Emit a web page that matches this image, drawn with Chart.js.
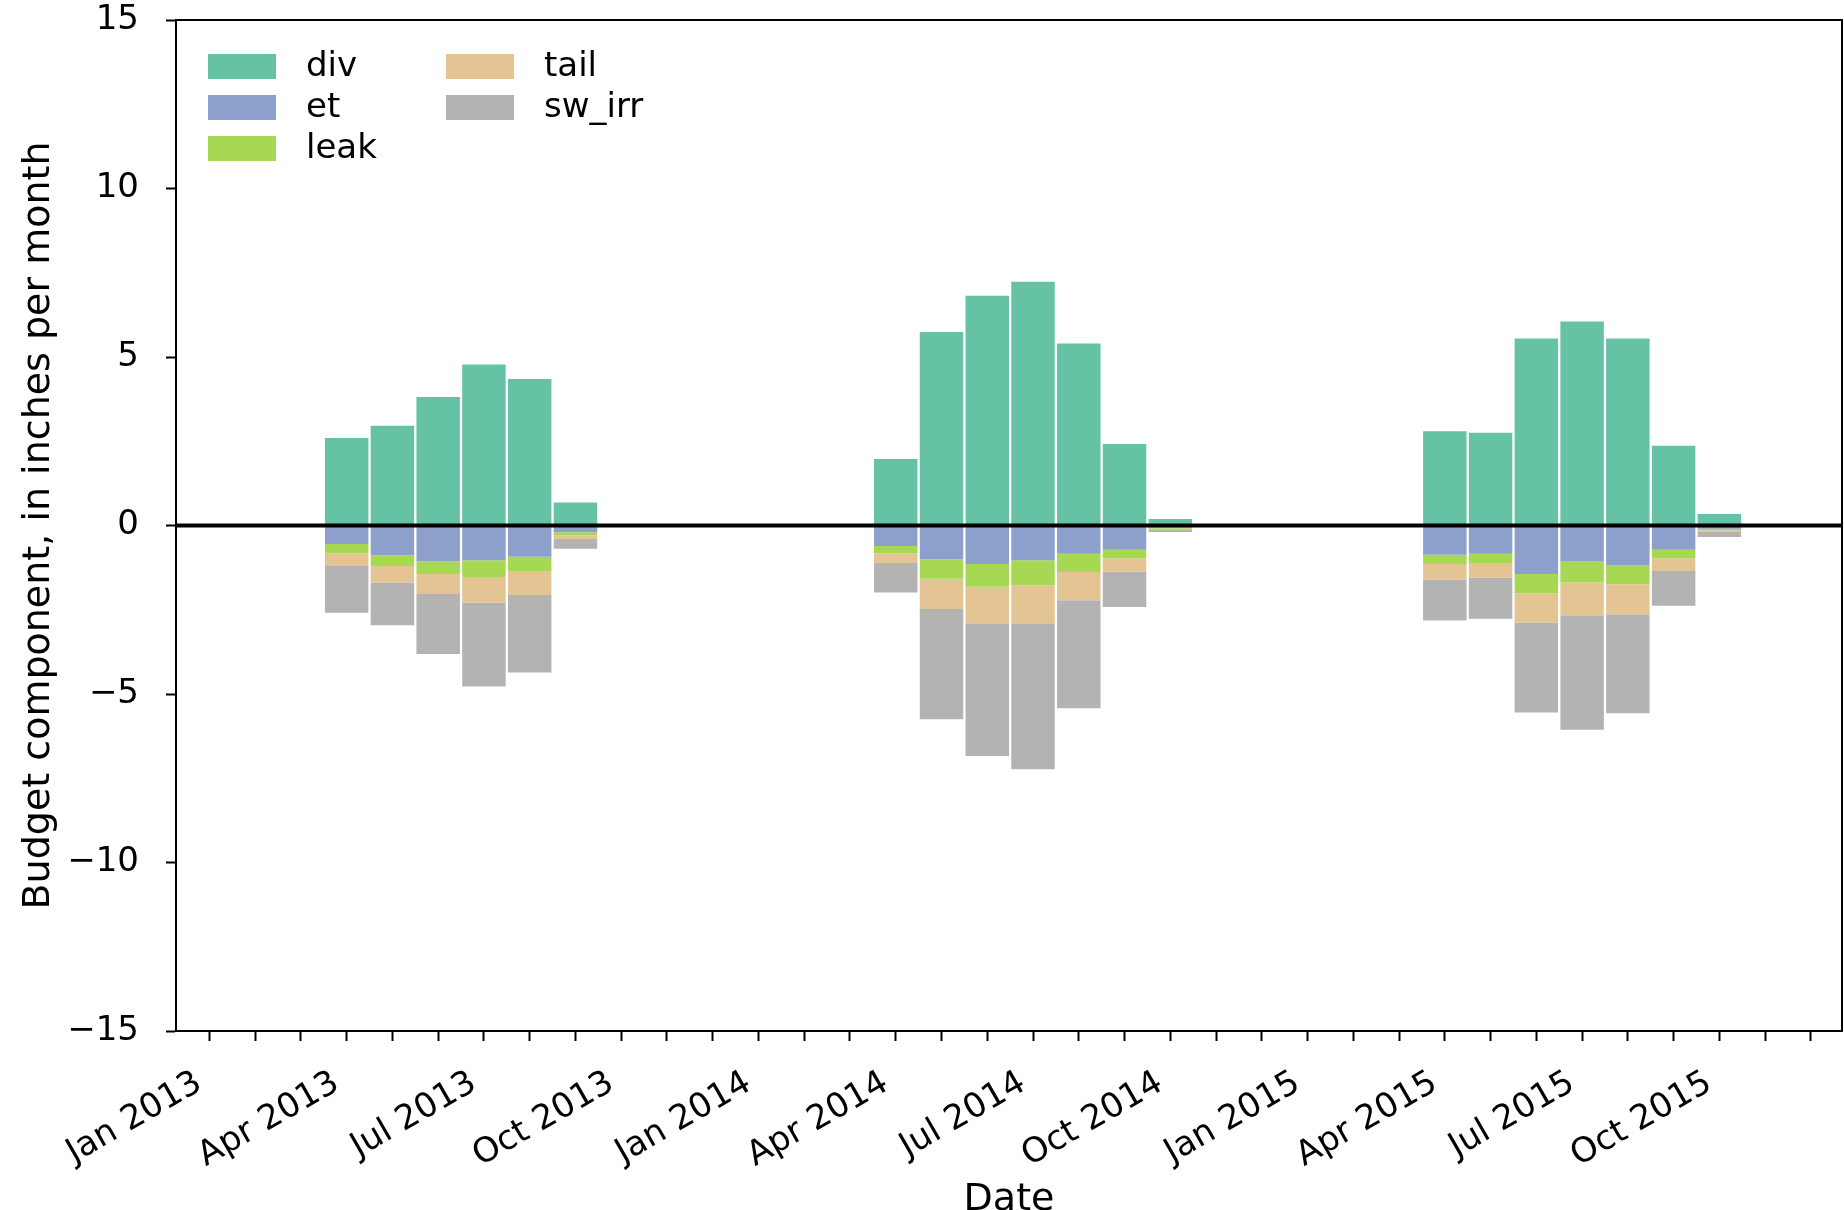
<!DOCTYPE html>
<html>
<head>
<meta charset="utf-8">
<script src="https://cdn.jsdelivr.net/npm/chart.js@4"></script>
<style>
  body { margin: 0; background: #fff; }
  #wrap { width: 1844px; height: 1210px; }
</style>
</head>
<body>
<div id="wrap"><canvas id="budgetChart" width="1844" height="1210"></canvas></div>
<script>
// months that have a bar (YYYY-MM)
const barDates = ['2013-04', '2013-05', '2013-06', '2013-07', '2013-08', '2013-09',
    '2014-04', '2014-05', '2014-06', '2014-07', '2014-08', '2014-09', '2014-10',
    '2015-04', '2015-05', '2015-06', '2015-07', '2015-08', '2015-09', '2015-10'];

// inflow (positive) and outflows (negative), inches per month
const div = [2.60, 2.96, 3.81, 4.78, 4.35, 0.68,
    1.97, 5.74, 6.82, 7.23, 5.40, 2.42, 0.19,
    2.80, 2.75, 5.55, 6.05, 5.55, 2.37, 0.34];
const et = [-0.55, -0.88, -1.06, -1.03, -0.93, -0.20,
    -0.61, -1.00, -1.14, -1.03, -0.84, -0.72, -0.06,
    -0.87, -0.84, -1.44, -1.05, -1.17, -0.72, -0.10];
const leak = [-0.27, -0.32, -0.38, -0.50, -0.42, -0.09,
    -0.21, -0.58, -0.68, -0.74, -0.54, -0.25, -0.04,
    -0.27, -0.27, -0.57, -0.64, -0.57, -0.25, -0.04];
const tail = [-0.38, -0.49, -0.59, -0.76, -0.71, -0.11,
    -0.29, -0.90, -1.08, -1.13, -0.84, -0.40, -0.03,
    -0.46, -0.43, -0.87, -0.97, -0.89, -0.38, -0.05];
const swIrr = [-1.39, -1.27, -1.78, -2.49, -2.30, -0.29,
    -0.88, -3.27, -3.94, -4.33, -3.20, -1.05, -0.06,
    -1.22, -1.23, -2.67, -3.40, -2.94, -1.03, -0.15];

// x tick labels, one every 3 months starting Jan 2013
const xTickLabels = ['Jan 2013', 'Apr 2013', 'Jul 2013', 'Oct 2013',
    'Jan 2014', 'Apr 2014', 'Jul 2014', 'Oct 2014',
    'Jan 2015', 'Apr 2015', 'Jul 2015', 'Oct 2015'];
const yTickValues = [-15, -10, -5, 0, 5, 10, 15];

// month index counted from Jan 2013
function monthIndex(s) {
    const parts = s.split('-');
    return (parseInt(parts[0]) - 2013) * 12 + parseInt(parts[1]) - 1;
}
const xs = barDates.map(monthIndex);

function points(vals) {
    return vals.map((v, i) => ({ x: xs[i], y: v }));
}

const series = [
    { label: 'div', data: div, color: '#66c2a5' },
    { label: 'et', data: et, color: '#8da0cb' },
    { label: 'leak', data: leak, color: '#a6d854' },
    { label: 'tail', data: tail, color: '#e5c494' },
    { label: 'sw_irr', data: swIrr, color: '#b3b3b3' }
];

Chart.defaults.font.family = "'DejaVu Sans', sans-serif";
Chart.defaults.font.size = 34;
Chart.defaults.color = '#000';

// box, zero line and 2-column legend like matplotlib
const framePlugin = {
    id: 'frame',
    afterDatasetsDraw(chart) {
        const ctx = chart.ctx;
        const a = chart.chartArea;
        const y0 = chart.scales.y.getPixelForValue(0);
        ctx.save();
        ctx.strokeStyle = '#000';
        ctx.lineWidth = 4;
        ctx.beginPath();
        ctx.moveTo(a.left, y0);
        ctx.lineTo(a.right, y0);
        ctx.stroke();
        ctx.restore();
    },
    afterDraw(chart) {
        const ctx = chart.ctx;
        const a = chart.chartArea;
        ctx.save();
        ctx.strokeStyle = '#000';
        ctx.lineWidth = 2;
        ctx.beginPath();
        ctx.moveTo(a.left, a.top);
        ctx.lineTo(a.right, a.top);
        ctx.lineTo(a.right, a.bottom);
        ctx.stroke();

        ctx.font = "34px 'DejaVu Sans'";
        ctx.textBaseline = 'middle';
        ctx.textAlign = 'left';
        series.forEach((s, i) => {
            const col = i < 3 ? 0 : 1;
            const row = i < 3 ? i : i - 3;
            const x = a.left + 32 + col * 238;
            const y = a.top + 34 + row * 41;
            ctx.fillStyle = s.color;
            ctx.fillRect(x, y, 68, 25);
            ctx.fillStyle = '#000';
            ctx.fillText(s.label, x + 98, y + 13);
        });
        ctx.restore();
    }
};

const ctx = document.getElementById('budgetChart').getContext('2d');
new Chart(ctx, {
    type: 'bar',
    data: {
        datasets: series.map(s => ({
            label: s.label,
            data: points(s.data),
            backgroundColor: s.color,
            borderWidth: 0,
            categoryPercentage: 1,
            barPercentage: 0.95
        }))
    },
    options: {
        responsive: false,
        animation: false,
        layout: { padding: { top: 20, right: 2, left: 0, bottom: 0 } },
        plugins: {
            legend: { display: false },
            tooltip: { enabled: false }
        },
        scales: {
            x: {
                type: 'linear',
                stacked: true,
                offset: false,
                min: -0.73,
                max: 35.68,
                afterFit(scale) {
                    scale.height = 179;
                    scale.paddingLeft = 0;
                    scale.paddingRight = 0;
                },
                grid: {
                    offset: false,
                    drawOnChartArea: false,
                    tickLength: 10,
                    tickColor: '#000',
                    tickWidth: 2
                },
                border: { color: '#000', width: 2 },
                ticks: {
                    stepSize: 1,
                    includeBounds: false,
                    autoSkip: false,
                    maxTicksLimit: 100,
                    minRotation: 30,
                    maxRotation: 30,
                    padding: 22,
                    labelOffset: -10,
                    callback: v => (v % 3 === 0 ? xTickLabels[v / 3] : '')
                },
                title: {
                    display: true,
                    text: 'Date',
                    font: { size: 38 },
                    padding: { top: 0, bottom: -13 }
                }
            },
            y: {
                stacked: true,
                min: -15,
                max: 15,
                afterFit(scale) {
                    scale.width = 176;
                    scale.paddingTop = 0;
                    scale.paddingBottom = 0;
                },
                grid: {
                    drawOnChartArea: false,
                    tickLength: 10,
                    tickColor: '#000',
                    tickWidth: 2
                },
                border: { color: '#000', width: 2 },
                afterBuildTicks(scale) {
                    scale.ticks = yTickValues.map(v => ({ value: v }));
                },
                ticks: {
                    padding: 27,
                    callback: v => String(v).replace('-', '\u2212')
                },
                title: {
                    display: true,
                    text: 'Budget component, in inches per month',
                    font: { size: 38 },
                    padding: { top: 16, bottom: 0 }
                }
            }
        }
    },
    plugins: [framePlugin]
});
</script>
</body>
</html>
